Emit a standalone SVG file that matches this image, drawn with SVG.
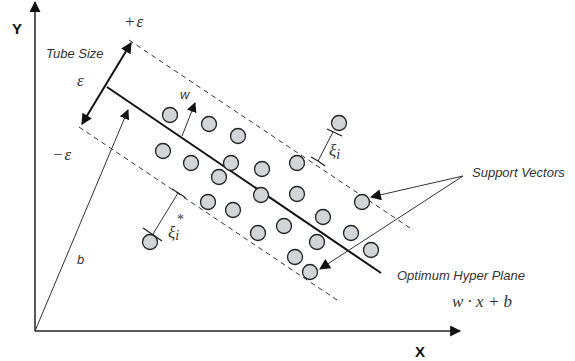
<svg xmlns="http://www.w3.org/2000/svg" width="575" height="361" viewBox="0 0 575 361">
<style>
.lbl{font-family:"Liberation Sans",Arial,sans-serif;font-style:italic;font-size:13px;fill:#333}
.ax{font-family:"Liberation Sans",Arial,sans-serif;font-weight:bold;font-size:15px;fill:#111}
.math{font-family:"Liberation Serif","Times New Roman",serif;font-size:17px;fill:#333}
.it{font-style:italic}
.pt{fill:#d3d4d8;stroke:#222;stroke-width:1.3}
.dash{stroke:#333;stroke-width:1;stroke-dasharray:5 4;fill:none}
.thin{stroke:#333;stroke-width:1;fill:none}
.tick{stroke:#222;stroke-width:1.3;fill:none}
</style>
<defs>
<marker id="ah" viewBox="0 0 10 10" refX="9" refY="5" markerWidth="10" markerHeight="10" markerUnits="userSpaceOnUse" orient="auto-start-reverse">
<path d="M0,0 L10,5 L0,10 z" fill="#111"/>
</marker>
<marker id="ahb" viewBox="0 0 10 10" refX="9" refY="5" markerWidth="12" markerHeight="11" markerUnits="userSpaceOnUse" orient="auto-start-reverse">
<path d="M0,0 L10,5 L0,10 z" fill="#111"/>
</marker>
</defs>
<rect width="575" height="361" fill="#fff"/>

<g id="axes">
<line x1="35" y1="331" x2="35" y2="2" stroke="#222" stroke-width="1.5" marker-end="url(#ahb)"/>
<line x1="35" y1="331" x2="460" y2="331" stroke="#222" stroke-width="1.5" marker-end="url(#ahb)"/>
<text class="ax" x="12" y="34">Y</text>
<text class="ax" x="415" y="357">X</text>
</g>

<g id="margins">
<line class="dash" x1="129" y1="40" x2="410" y2="228"/>
<line class="dash" x1="79" y1="127" x2="340" y2="302"/>
<text class="math" x="125" y="27" font-size="18">+<tspan class="it" dx="2">ε</tspan></text>
<text class="math" x="53" y="160" font-size="18">−<tspan class="it" dx="2">ε</tspan></text>
</g>

<g id="hyperplane">
<line x1="107" y1="87" x2="381" y2="273" stroke="#111" stroke-width="2"/>
<text class="lbl" x="397" y="280">Optimum Hyper Plane</text>
<text class="math it" x="452" y="307">w · x + b</text>
</g>

<g id="tube">
<line x1="82" y1="124" x2="131" y2="43" stroke="#111" stroke-width="2" marker-start="url(#ahb)" marker-end="url(#ahb)"/>
<text class="lbl" x="46" y="58">Tube Size</text>
<text class="math it" x="77" y="86" font-size="18">ε</text>
</g>

<g id="points">
<circle class="pt" cx="170" cy="115" r="7.5"/>
<circle class="pt" cx="209" cy="124" r="7.5"/>
<circle class="pt" cx="238" cy="136" r="7.5"/>
<circle class="pt" cx="163" cy="151" r="7.5"/>
<circle class="pt" cx="191" cy="163" r="7.5"/>
<circle class="pt" cx="231" cy="163" r="7.5"/>
<circle class="pt" cx="262" cy="169" r="7.5"/>
<circle class="pt" cx="297" cy="163" r="7.5"/>
<circle class="pt" cx="219" cy="177" r="7.5"/>
<circle class="pt" cx="261" cy="195" r="7.5"/>
<circle class="pt" cx="297" cy="194" r="7.5"/>
<circle class="pt" cx="208" cy="202" r="7.5"/>
<circle class="pt" cx="233" cy="210" r="7.5"/>
<circle class="pt" cx="362" cy="202" r="7.5"/>
<circle class="pt" cx="323" cy="217" r="7.5"/>
<circle class="pt" cx="284" cy="226" r="7.5"/>
<circle class="pt" cx="258" cy="233" r="7.5"/>
<circle class="pt" cx="351" cy="233" r="7.5"/>
<circle class="pt" cx="317" cy="242" r="7.5"/>
<circle class="pt" cx="371" cy="250" r="7.5"/>
<circle class="pt" cx="295" cy="257" r="7.5"/>
<circle class="pt" cx="310" cy="272" r="7.5"/>
<circle class="pt" cx="339" cy="123" r="7.5"/>
<circle class="pt" cx="150" cy="242" r="7.5"/>
</g>

<g id="slack-upper">
<line class="thin" x1="333" y1="132" x2="318" y2="161"/>
<line class="tick" x1="327" y1="129" x2="342" y2="136"/>
<path class="tick" d="M311,157 L318,161 Q321,163 325,166"/>
<text class="math it" x="329" y="156" font-size="19">ξ<tspan font-size="14" dy="3">i</tspan></text>
</g>

<g id="slack-lower">
<line class="thin" x1="153" y1="234" x2="178" y2="193"/>
<line class="tick" x1="143" y1="228" x2="162" y2="241"/>
<path class="tick" d="M172,189 L180,194 Q184,196 186,199"/>
<text class="math it" x="168" y="238" font-size="19">ξ<tspan font-size="14" dy="2">i</tspan><tspan font-size="14" dx="-3" dy="-16">*</tspan></text>
</g>

<g id="vectors">
<line class="thin" x1="182" y1="136" x2="195" y2="103" marker-end="url(#ah)"/>
<text class="lbl" x="180" y="99" font-size="14">w</text>
<line class="thin" x1="35" y1="331" x2="128" y2="110" marker-end="url(#ah)"/>
<text class="lbl" x="77" y="264" font-size="15">b</text>
</g>

<g id="support-vectors">
<line class="thin" x1="463" y1="176" x2="371" y2="197" marker-end="url(#ahb)"/>
<line class="thin" x1="463" y1="176" x2="320" y2="269" marker-end="url(#ahb)"/>
<text class="lbl" x="472" y="177">Support Vectors</text>
</g>
</svg>
